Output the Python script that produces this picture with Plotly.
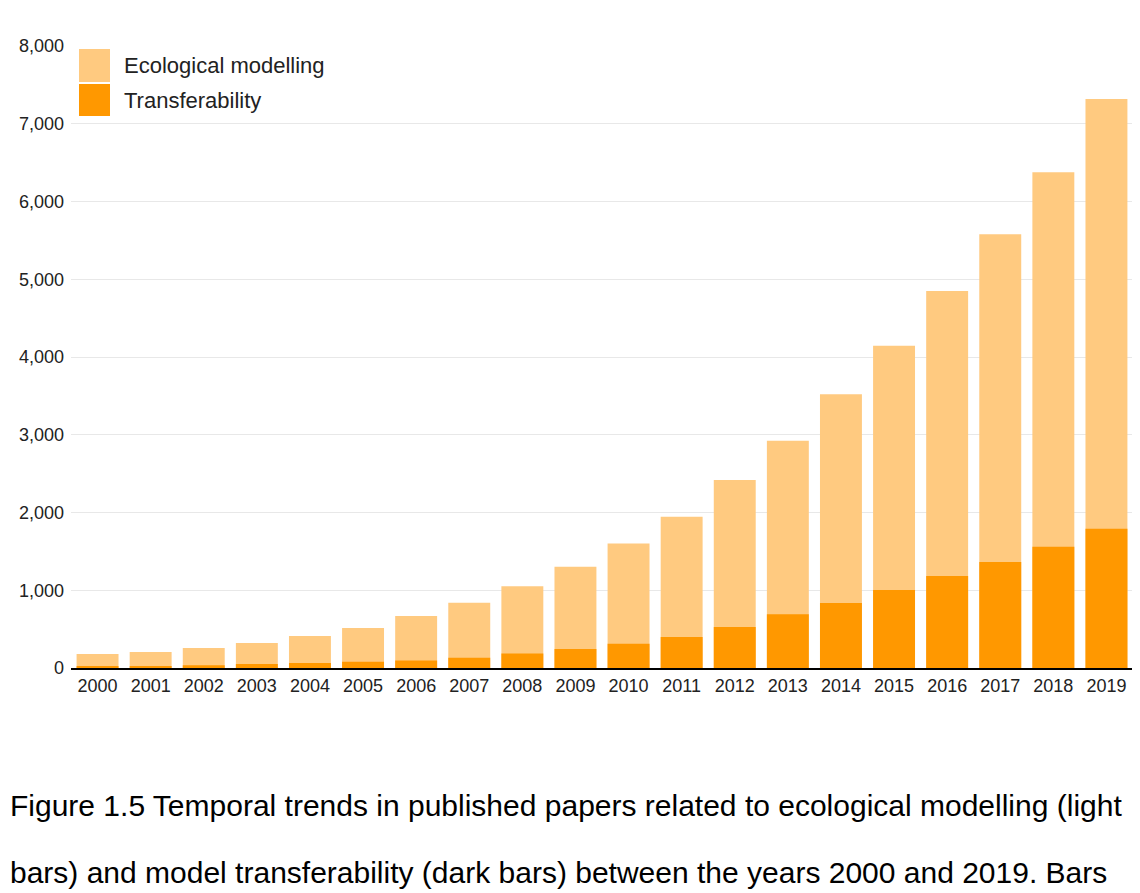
import plotly.graph_objects as go

# Dados (número de artigos por ano)
years = [str(y) for y in range(2000, 2020)]
ecological_modelling = [180, 206, 258, 322, 412, 515, 670, 838, 1050, 1302,
                        1600, 1946, 2418, 2924, 3520, 4145, 4849, 5578, 6376, 7318]
transferability = [13, 25, 35, 50, 65, 80, 95, 133, 185, 245,
                   313, 400, 527, 691, 836, 1003, 1183, 1363, 1560, 1792]

LIGHT = '#FFCA80'
DARK = '#FF9800'

# a página tem 8px de margem no body, por isso a figura é um pouco menor
W, H = 1132, 885
L, R, T, B = 63, 7, 38, 225


def px_x(p):
    return (p - L) / (W - L - R)


def px_y(p):
    return (H - B - p) / (H - T - B)


fig = go.Figure()
fig.add_trace(go.Bar(x=years, y=ecological_modelling, name='Ecological modelling',
                     marker=dict(color=LIGHT, line=dict(width=0))))
fig.add_trace(go.Bar(x=years, y=transferability, name='Transferability',
                     marker=dict(color=DARK, line=dict(width=0))))

# legenda desenhada à mão (quadrados grandes como no original)
legend_items = [('Ecological modelling', LIGHT, 41, 74), ('Transferability', DARK, 76, 108)]
shapes = []
annotations = []
for label, color, top, bottom in legend_items:
    shapes.append(dict(type='rect', xref='paper', yref='paper',
                       x0=px_x(71), x1=px_x(102), y0=px_y(bottom), y1=px_y(top),
                       fillcolor=color, line=dict(width=0)))
    annotations.append(dict(text=label, xref='paper', yref='paper',
                            x=px_x(114), y=px_y((top + bottom) / 2),
                            xanchor='left', yanchor='middle', showarrow=False,
                            font=dict(size=22, color='#222222')))

caption = ['Figure 1.5 Temporal trends in published papers related to ecological modelling (light',
           'bars) and model transferability (dark bars) between the years 2000 and 2019. Bars']
for i, line in enumerate(caption):
    annotations.append(dict(text=line, xref='paper', yref='paper',
                            x=px_x(0), y=px_y(797 + i * 67),
                            xanchor='left', yanchor='middle', showarrow=False,
                            font=dict(size=30, color='#000000')))

fig.update_layout(
    width=W, height=H,
    margin=dict(l=L, r=R, t=T, b=B),
    barmode='overlay',
    bargap=0.21,
    showlegend=False,
    plot_bgcolor='white',
    paper_bgcolor='white',
    font=dict(family='Arial, Liberation Sans, sans-serif', color='#222222'),
    shapes=shapes,
    annotations=annotations,
)
fig.update_xaxes(
    type='category',
    showgrid=False,
    showline=True, linecolor='#000000', linewidth=2,
    ticks='', tickfont=dict(size=18, color='#222222'),
)
fig.update_yaxes(
    range=[0, 8000],
    dtick=1000,
    tickformat=',',
    showgrid=True, gridcolor='#E8E8E8', gridwidth=1,
    zeroline=False,
    showline=False,
    ticks='', ticklabelstandoff=6,
    tickfont=dict(size=18, color='#222222'),
)

fig.write_html('out.html')
